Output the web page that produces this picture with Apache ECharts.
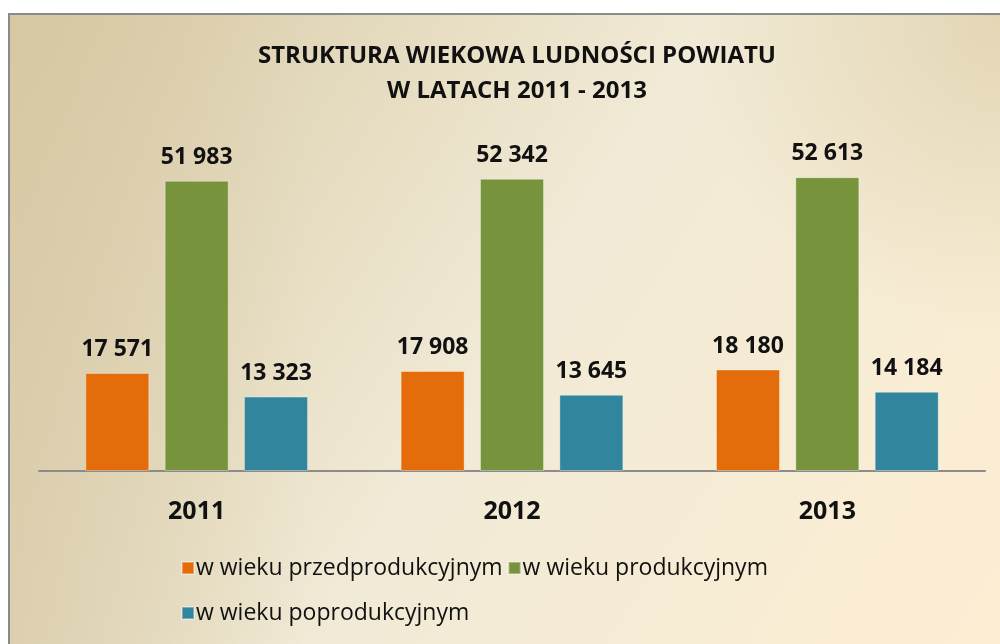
<!DOCTYPE html>
<html>
<head>
<meta charset="utf-8">
<script src="https://cdn.jsdelivr.net/npm/echarts@6/dist/echarts.min.js"></script>
<style>
  html, body { margin: 0; padding: 0; background: #fff; }
  #chart { width: 1000px; height: 644px; }
</style>
</head>
<body>
<div id="chart"></div>
<script>
// lata
const years = ["2011", "2012", "2013"];
// nazwy grup wiekowych
const seriesNames = ["w wieku przedprodukcyjnym", "w wieku produkcyjnym", "w wieku poprodukcyjnym"];
// wartosci
const przedprodukcyjny = [17571, 17908, 18180];
const produkcyjny = [51983, 52342, 52613];
const poprodukcyjny = [13323, 13645, 14184];
const colors = ["#E46C0A", "#77933C", "#31859C"];

const chart = echarts.init(document.getElementById("chart"));

// 17571 -> "17 571"
const fmt = v => String(v).replace(/\B(?=(\d{3})+(?!\d))/g, " ");

const makeSeries = (name, data, idx) => ({
  name: name,
  type: "bar",
  data: data,
  barWidth: 64,
  barGap: "24%",
  itemStyle: { color: colors[idx], borderColor: "rgba(255,255,255,0.35)", borderWidth: 1 },
  label: {
    show: true,
    position: "top",
    distance: 12,
    formatter: p => fmt(p.value),
    fontFamily: "Open Sans",
    fontWeight: "bold",
    fontSize: 23,
    color: "#111"
  }
});

chart.setOption({
  animation: false,
  graphic: [
    {
      type: "rect",
      z: -10,
      shape: { x: 9, y: 14, width: 1000, height: 640 },
      style: {
        fill: new echarts.graphic.LinearGradient(0, 0, 1, 1, [
          { offset: 0, color: "#D6C8A2" },
          { offset: 0.5, color: "#F1EAD6" },
          { offset: 1, color: "#FDEED3" }
        ]),
        stroke: "#8a8a8a",
        lineWidth: 2
      }
    },
    {
      type: "rect",
      z: -9,
      shape: { x: 10, y: 15, width: 995, height: 635 },
      style: {
        fill: new echarts.graphic.RadialGradient(1, 0, 0.5, [
          { offset: 0, color: "rgba(214,200,160,0.6)" },
          { offset: 1, color: "rgba(214,200,160,0)" }
        ])
      }
    },
    {
      type: "rect",
      z: -9,
      shape: { x: 10, y: 15, width: 300, height: 635 },
      style: {
        fill: new echarts.graphic.LinearGradient(0, 0, 1, 0, [
          { offset: 0, color: "rgba(214,200,165,0.6)" },
          { offset: 1, color: "rgba(214,200,165,0)" }
        ])
      }
    }
  ],
  title: {
    text: "STRUKTURA WIEKOWA LUDNOŚCI POWIATU\nW LATACH 2011 - 2013",
    left: 512,
    textAlign: "center",
    top: 34,
    textStyle: {
      fontFamily: "Open Sans",
      fontWeight: "bold",
      fontSize: 24,
      lineHeight: 35,
      color: "#111"
    }
  },
  legend: {
    data: seriesNames,
    left: 181,
    top: 548,
    width: 640,
    padding: 0,
    itemGap: 5,
    itemWidth: 12,
    itemHeight: 12,
    icon: "rect",
    textStyle: {
      fontFamily: "Open Sans",
      fontSize: 23,
      lineHeight: 40,
      color: "#111",
      padding: [0, 0, 0, -3]
    }
  },
  grid: { left: 39, right: 15, top: 136, bottom: 173 },
  xAxis: {
    type: "category",
    data: years,
    axisLine: { lineStyle: { color: "#8c8c8c", width: 2 } },
    axisTick: { show: false },
    axisLabel: {
      margin: 28,
      fontFamily: "Open Sans",
      fontWeight: "bold",
      fontSize: 25,
      color: "#111"
    }
  },
  yAxis: {
    type: "value",
    min: 0,
    max: 60000,
    show: false,
    splitLine: { show: false }
  },
  series: [
    makeSeries(seriesNames[0], przedprodukcyjny, 0),
    makeSeries(seriesNames[1], produkcyjny, 1),
    makeSeries(seriesNames[2], poprodukcyjny, 2)
  ]
});
</script>
</body>
</html>
